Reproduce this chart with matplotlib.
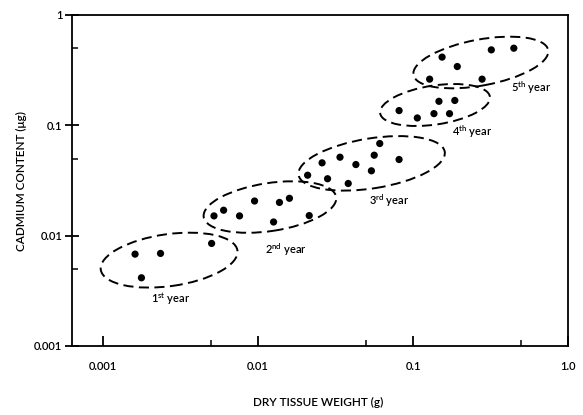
import matplotlib
matplotlib.use('Agg')
import matplotlib.pyplot as plt
from matplotlib.patches import Ellipse
from matplotlib.transforms import ScaledTranslation

plt.rcParams['font.family'] = ['Lato', 'DejaVu Sans']
plt.rcParams['font.weight'] = 'semibold'

# ---- data (dry tissue weight in g, cadmium content in ug) ----
year1_weight = [0.00161, 0.00235, 0.00177, 0.00502]
year1_cd = [0.0068, 0.0069, 0.00415, 0.0085]

year2_weight = [0.0052, 0.0060, 0.0076, 0.0095, 0.0126, 0.01375, 0.01595, 0.0214]
year2_cd = [0.0151, 0.0170, 0.0151, 0.0206, 0.0133, 0.0200, 0.0218, 0.0152]

year3_weight = [0.0209, 0.0259, 0.0281, 0.0338, 0.0382, 0.0428, 0.0539, 0.0562, 0.061, 0.0813]
year3_cd = [0.0353, 0.0457, 0.0328, 0.0514, 0.0297, 0.0441, 0.0387, 0.0536, 0.0684, 0.0490]

year4_weight = [0.0813, 0.1066, 0.1365, 0.147, 0.186, 0.172]
year4_cd = [0.136, 0.1166, 0.1276, 0.165, 0.168, 0.1276]

year5_weight = [0.154, 0.193, 0.128, 0.279, 0.320, 0.447]
year5_cd = [0.415, 0.341, 0.262, 0.262, 0.483, 0.500]

year_ordinals = ['1', '2', '3', '4', '5']
year_suffixes = ['st', 'nd', 'rd', 'th', 'th']

# group ellipse centres (data coords) and label anchor points (data coords)
ellipse_cx = [0.00267, 0.01194, 0.0541, 0.1387, 0.2738]
ellipse_cy = [0.0060, 0.01817, 0.0452, 0.1528, 0.371]
label_x = [0.00275, 0.0152, 0.070, 0.240, 0.577]
label_y = [0.00266, 0.0074, 0.0206, 0.0869, 0.218]

x_ticks = [0.001, 0.01, 0.1, 1.0]
x_ticklabels = ['0.001', '0.01', '0.1', '1.0']
y_ticks = [0.001, 0.01, 0.1, 1]
y_ticklabels = ['0.001', '0.01', '0.1', '1']
x_minor = [0.005, 0.05, 0.5]
y_minor = [0.005, 0.05, 0.5]

# ---- figure ----
fig = plt.figure(figsize=(5.83, 4.15), dpi=100)
ax = fig.add_axes([0.1235, 0.1663, 0.8508, 0.7976])
ax.set_xscale('log')
ax.set_yscale('log')
ax.set_xlim(10 ** -3.2, 1.0)
ax.set_ylim(0.001, 1)

weights = [year1_weight, year2_weight, year3_weight, year4_weight, year5_weight]
cds = [year1_cd, year2_cd, year3_cd, year4_cd, year5_cd]
for w, c in zip(weights, cds):
    ax.scatter(w, c, s=27, color='black', edgecolors='none', zorder=3)

# ellipse sizes in pixels (width, height, angle)
ell_sizes = [(138, 52, 8), (134, 48, 8.6), (148, 50, 9), (111, 39, 8.6), (137, 46, 10.5)]
for (cx, cy), (w, h, ang) in zip(zip(ellipse_cx, ellipse_cy), ell_sizes):
    tr = fig.dpi_scale_trans + ScaledTranslation(cx, cy, ax.transData)
    e = Ellipse((0, 0), w / 100.0, h / 100.0, angle=ang, transform=tr,
                fill=False, edgecolor='black', linewidth=1.4,
                linestyle=(0, (5.2, 2.8)), clip_on=False)
    ax.add_patch(e)

for o, s, lx, ly in zip(year_ordinals, year_suffixes, label_x, label_y):
    ax.text(lx, ly, o + r'$^{\mathregular{' + s + '}}$ year', ha='center',
            va='center', fontsize=8)

ax.set_xticks(x_ticks)
ax.set_xticklabels(x_ticklabels)
ax.set_yticks(y_ticks)
ax.set_yticklabels(y_ticklabels)
ax.set_xticks(x_minor, minor=True)
ax.set_yticks(y_minor, minor=True)
ax.xaxis.set_minor_formatter(plt.NullFormatter())
ax.yaxis.set_minor_formatter(plt.NullFormatter())

ax.tick_params(axis='x', which='major', direction='in', length=7, width=1.3,
               pad=11, labelsize=8)
ax.tick_params(axis='y', which='major', direction='inout', length=10, width=1.3,
               pad=2, labelsize=8)
ax.tick_params(axis='both', which='minor', direction='in', length=4, width=1.1)
ax.tick_params(top=False, right=False, which='both')

for sp in ax.spines.values():
    sp.set_linewidth(1.3)

fig.text(0.545, 0.029, 'DRY TISSUE WEIGHT (g)', ha='center', va='center', fontsize=8.5)
fig.text(0.036, 0.564, 'CADMIUM CONTENT (μg)', rotation=90, ha='center', va='center',
         fontsize=8.5)

fig.savefig('out.png', dpi=100)
